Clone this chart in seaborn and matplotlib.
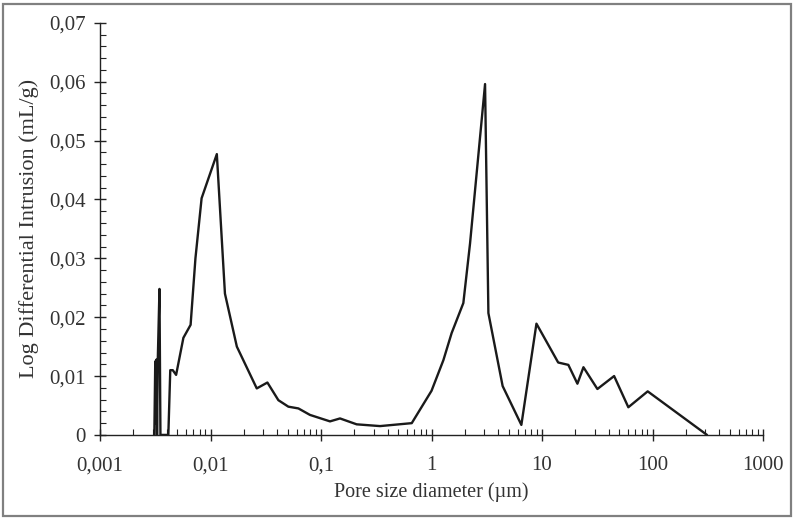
import matplotlib
matplotlib.use("Agg")
import matplotlib.pyplot as plt
import matplotlib.ticker as mticker
from matplotlib.patches import Rectangle
import seaborn as sns
import pandas as pd

pore_size_um = [0.00310, 0.00316, 0.00320, 0.00324, 0.00328, 0.00333, 0.00345, 0.00352,
                0.00365, 0.00415, 0.00432, 0.00455, 0.00488, 0.00568, 0.00660, 0.00730,
                0.00830, 0.01140, 0.01350, 0.01730, 0.02620, 0.03270, 0.04110, 0.05060,
                0.06240, 0.07940, 0.12050, 0.14850, 0.21000, 0.34200, 0.66200, 1.00000,
                1.28000, 1.52000, 1.94000, 2.23000, 3.05000, 3.27000, 4.40000, 6.50000,
                8.90000, 14.0000, 17.3000, 20.9000, 23.7000, 31.7000, 44.9000, 60.4000,
                90.4000, 311.000]
log_diff_intrusion = [0.0, 0.0125, 0.0020, 0.0128, 0.0, 0.0127, 0.0248, 0.0,
                      0.0, 0.0, 0.0110, 0.0110, 0.0102, 0.0165, 0.0187, 0.0300,
                      0.0402, 0.0477, 0.0240, 0.0150, 0.0079, 0.0089, 0.0059, 0.0048,
                      0.0045, 0.0034, 0.0023, 0.0028, 0.0018, 0.0015, 0.0020, 0.0075,
                      0.0127, 0.0173, 0.0224, 0.0325, 0.0596, 0.0207, 0.0083, 0.0017,
                      0.0189, 0.0123, 0.0119, 0.0087, 0.0115, 0.0078, 0.0100, 0.0047,
                      0.0074, 0.0]

x_ticks = [0.001, 0.01, 0.1, 1, 10, 100, 1000]
x_tick_labels = ["0,001", "0,01", "0,1", "1", "10", "100", "1000"]
y_ticks = [0, 0.01, 0.02, 0.03, 0.04, 0.05, 0.06, 0.07]
y_tick_labels = ["0", "0,01", "0,02", "0,03", "0,04", "0,05", "0,06", "0,07"]

df = pd.DataFrame({"size": pore_size_um, "val": log_diff_intrusion})

sns.set_theme(style="white")
plt.rcParams["font.family"] = ["Liberation Serif", "DejaVu Serif"]

fig = plt.figure(figsize=(7.94, 5.19), dpi=100)
ax = fig.add_axes([0.126, 0.162, 0.835, 0.794])

sns.lineplot(data=df, x="size", y="val", ax=ax, color="#1a1a1a", linewidth=1.7,
             estimator=None, sort=False)

ax.set_xscale("log")
ax.set_xlim(0.001, 1000)
ax.set_ylim(0, 0.07)
ax.set_xticks(x_ticks)
ax.set_xticklabels(x_tick_labels)
ax.set_yticks(y_ticks)
ax.set_yticklabels(y_tick_labels)
ax.xaxis.set_minor_locator(mticker.LogLocator(base=10, subs=range(2, 10), numticks=20))
ax.xaxis.set_minor_formatter(mticker.NullFormatter())
ax.yaxis.set_minor_locator(mticker.MultipleLocator(0.002))

for s in ["top", "right"]:
    ax.spines[s].set_visible(False)
for s in ["left", "bottom"]:
    ax.spines[s].set_color("#222222")
    ax.spines[s].set_linewidth(1.0)

ax.tick_params(axis="both", which="major", direction="inout", length=9, width=1.0,
               color="#222222", labelsize=15, labelcolor="#333333", pad=6)
ax.tick_params(axis="x", which="major", pad=11)
ax.tick_params(axis="x", which="minor", direction="in", length=4, width=0.8, color="#222222")
ax.tick_params(axis="y", which="minor", direction="in", length=4, width=0.8, color="#222222")
ax.tick_params(axis="x", which="both", bottom=True)
ax.tick_params(axis="y", which="both", left=True)

ax.set_xlabel("Pore size diameter (µm)", fontsize=14.5, color="#333333", labelpad=5)
ax.set_ylabel("Log Differential Intrusion (mL/g)", fontsize=16, color="#333333", labelpad=7)
ax.grid(False)

fig.patches.append(Rectangle((0.004, 0.006), 0.992, 0.986, transform=fig.transFigure,
                             fill=False, edgecolor="#808080", linewidth=1.6))

fig.savefig("out.png", dpi=100)
